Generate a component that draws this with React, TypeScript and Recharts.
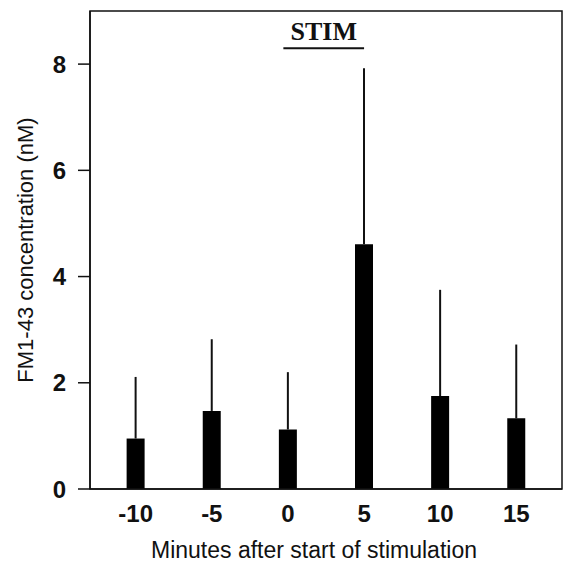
import React from "react";
import {
  BarChart,
  Bar,
  XAxis,
  YAxis,
  ErrorBar,
  ReferenceArea,
  ReferenceLine,
} from "recharts";

// minutes relative to start of stimulation
const minutes = [-10, -5, 0, 5, 10, 15];
// FM1-43 concentration (nM), mean
const meanConc = [0.95, 1.47, 1.12, 4.61, 1.75, 1.33];
// upward error (SD) above the mean
const errUp = [1.16, 1.35, 1.08, 3.31, 2.0, 1.39];

const xTicks = [-10, -5, 0, 5, 10, 15];
const yTicks = [0, 2, 4, 6, 8];
const stimStart = -0.3;
const stimEnd = 5;
const stimLevel = 8.3;

const data = minutes.map((m, i) => ({
  minute: m,
  conc: meanConc[i],
  err: [0, errUp[i]],
}));

const sans = "'Liberation Sans', Arial, Helvetica, sans-serif";
const ink = "#111";

const XTick = (props: any) => {
  const { x, y, payload } = props;
  return (
    <text
      x={x}
      y={y + 33}
      textAnchor="middle"
      fill={ink}
      fontSize={24}
      fontWeight="bold"
      fontFamily={sans}
    >
      {payload.value}
    </text>
  );
};

const YTick = (props: any) => {
  const { x, y, payload } = props;
  return (
    <text
      x={x}
      y={y + 8.5}
      textAnchor="end"
      fill={ink}
      fontSize={24}
      fontWeight="bold"
      fontFamily={sans}
    >
      {payload.value}
    </text>
  );
};

export default function App() {
  return (
    <div style={{ position: "absolute", left: 0, top: 0, background: "#fff" }}>
      <BarChart
        width={565}
        height={564}
        data={data}
        margin={{ top: 11, right: 3, bottom: 0, left: 0 }}
        barSize={18}
      >
        <XAxis
          dataKey="minute"
          type="number"
          domain={[-13, 18]}
          ticks={xTicks}
          height={75}
          tickLine={false}
          tickSize={0}
          tickMargin={0}
          axisLine={{ stroke: ink, strokeWidth: 1.5 }}
          tick={<XTick />}
          label={{
            value: "Minutes after start of stimulation",
            position: "insideBottom",
            offset: 6,
            dx: -12,
            fill: ink,
            fontSize: 23,
            fontFamily: sans,
          }}
        />
        <YAxis
          type="number"
          domain={[0, 9]}
          ticks={yTicks}
          width={90}
          tickSize={12}
          tickMargin={12}
          axisLine={{ stroke: ink, strokeWidth: 1.5 }}
          tickLine={{ stroke: ink, strokeWidth: 1.5 }}
          tick={<YTick />}
          label={{
            value: "FM1-43 concentration (nM)",
            angle: -90,
            position: "insideLeft",
            offset: 25,
            fill: ink,
            fontSize: 22,
            fontFamily: sans,
            style: { textAnchor: "middle" },
          }}
        />
        <ReferenceArea
          x1={-13}
          x2={18}
          y1={0}
          y2={9}
          fill="none"
          stroke={ink}
          strokeWidth={1.5}
        />
        <ReferenceLine
          segment={[
            { x: stimStart, y: stimLevel },
            { x: stimEnd, y: stimLevel },
          ]}
          stroke={ink}
          strokeWidth={2}
          label={{
            value: "STIM",
            position: "top",
            offset: 8,
            fill: ink,
            fontSize: 26,
            fontWeight: "bold",
            fontFamily: "'Liberation Serif', 'Times New Roman', serif",
          }}
        />
        <Bar dataKey="conc" fill="#000" isAnimationActive={false}>
          <ErrorBar
            dataKey="err"
            width={0}
            stroke={ink}
            strokeWidth={2}
            direction="y"
          />
        </Bar>
      </BarChart>
    </div>
  );
}
